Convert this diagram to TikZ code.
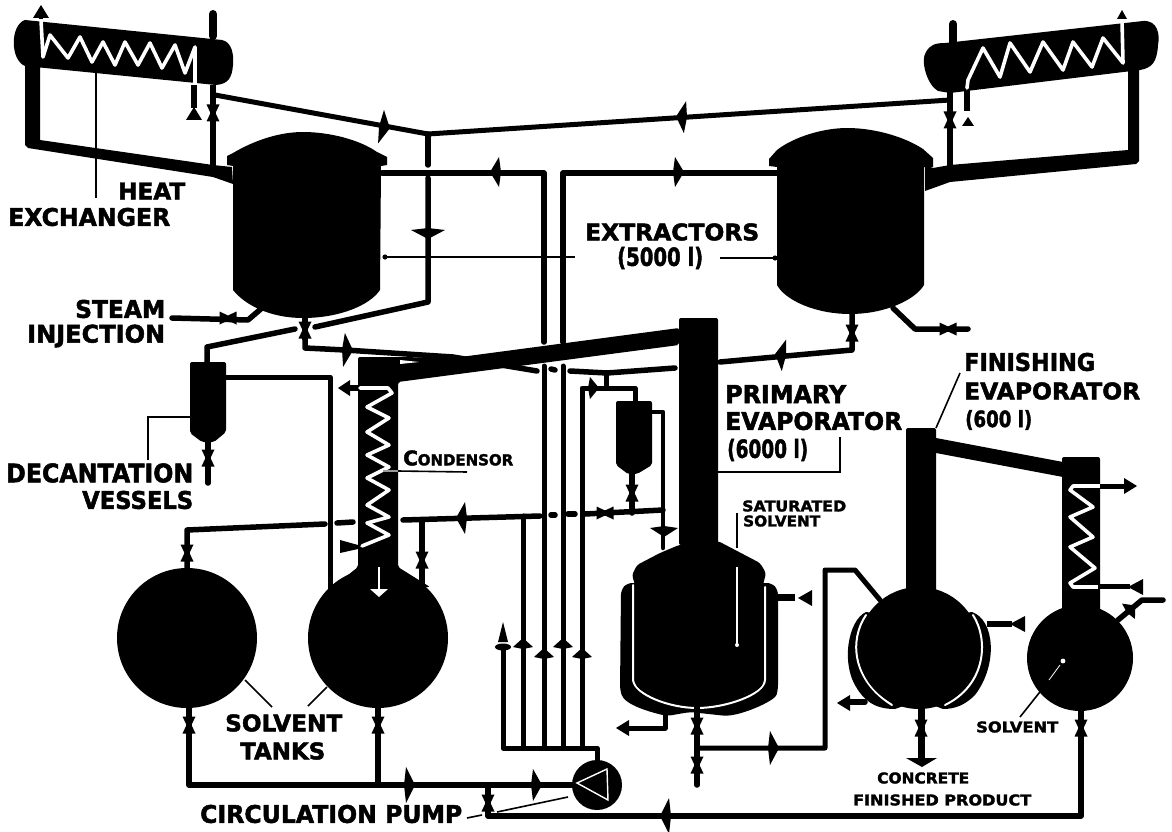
\documentclass[tikz,border=0pt]{standalone}
\usepackage{fontspec}
\usepackage{graphicx}
\setmainfont{DejaVu Sans}[BoldFeatures={FakeBold=2}]
\newcommand\valve[3]{\fill[shift={(#1,#2)},rotate=#3] (-6.5,-8.5)--(6.5,-8.5)--(2.5,0)--(6.5,8.5)--(-6.5,8.5)--(-2.5,0)--cycle;}
\newcommand\flow[4]{\fill[shift={(#1,#2)},rotate=#3] (7,0)--(-2,-#4)--(-4,0)--(-2,#4)--cycle;}
\newcommand\tri[5]{\fill[shift={(#1,#2)},rotate=#3] (0,0)--(#4,-#5)--(#4,#5)--cycle;}
\newcommand\lbl[6]{\node[anchor=west,inner sep=0pt] (#1) at (#2,#3) {\resizebox{#4pt}{#5pt}{\bfseries #6}};}
\tikzset{
  pipe/.style={draw=black,line width=5.5pt,line cap=round,line join=round},
  leader/.style={draw=black,line width=1.6pt},
  coil/.style={draw=white,line width=3.6pt,line join=round,line cap=round},
  jacketline/.style={draw=white,line width=2pt,line cap=round}
}
\begin{document}
\begin{tikzpicture}[x=1pt,y=-1pt]
\useasboundingbox (0,0) rectangle (1172,832);
% ---------- left heat exchanger
\fill (25,20) -- (222,40) .. controls (232,42) and (234,55) .. (233,65) .. controls (232,78) and (228,84) .. (216,85) -- (25,66) .. controls (10,60) and (10,25) .. (25,20) -- cycle;
\fill (25,60) -- (40,66) -- (40,140) -- (213,165) -- (232,167) -- (233,184) -- (213,177) -- (28,148) -- (25,145) -- cycle;
\draw[coil] (41,20) -- (43,57) -- (50,35) -- (68,58) -- (80,37) -- (92,62) -- (103,42) -- (115,65) -- (125,42) -- (138,65) -- (150,43) -- (162,68) -- (175,45) -- (185,73) -- (195,47) -- (195,84);
\draw[pipe,line width=4pt,line cap=butt] (41,15) -- (41,19);
\tri{41}{5}{-90}{13}{8}
\draw[pipe,line width=8pt] (213,14) -- (213,36);
\draw[pipe,line cap=butt] (194,85) -- (194,108);
\tri{194}{107}{-90}{13}{8}
\draw[pipe,line cap=butt] (213,85) -- (213,166);
\valve{213}{113}{0}
\draw[leader] (96,73) -- (96,198);
% ---------- right heat exchanger
\fill (1143,21) .. controls (1158,20) and (1160,35) .. (1158,45) .. controls (1157,62) and (1152,68) .. (1140,70) -- (950,93) -- (938,91) .. controls (927,85) and (920,60) .. (926,52) .. controls (930,45) and (935,43) .. (945,43) -- cycle;
\fill (933,168) -- (950,165) -- (1128,150) -- (1128,70) -- (1139,70) -- (1139,161) -- (1136,164) -- (950,182) -- (925,191) -- (925,165) -- cycle;
\draw[coil] (1122,20) -- (1123,63) -- (1103,38) -- (1092,67) -- (1073,42) -- (1063,70) -- (1043,42) -- (1030,72) -- (1010,43) -- (1000,77) -- (983,48) -- (968,80) -- (967,88);
\tri{1122}{10}{-90}{9}{5}
\draw[pipe,line width=8pt] (953,24) -- (953,43);
\draw[pipe,line cap=butt] (967,90) -- (967,111);
\tri{968}{117}{-90}{9}{6}
\draw[pipe,line cap=butt] (950,92) -- (950,166);
\valve{950}{120}{0}
% ---------- extractors
\fill (233,153) .. controls (255,140) and (280,132) .. (303,132) .. controls (330,132) and (360,140) .. (377,152) -- (387,157) -- (387,165) -- (381,166) -- (380,290) .. controls (370,305) and (340,318) .. (303,318) .. controls (270,318) and (245,305) .. (233,290) -- (233,166) -- (227,165) -- (227,156) -- cycle;
\fill (777,150) .. controls (795,136) and (825,128) .. (847,128) .. controls (875,128) and (905,137) .. (923,149) -- (933,158) -- (933,167) -- (924,167) -- (924,285) .. controls (915,300) and (885,314) .. (850,314) .. controls (815,314) and (785,300) .. (777,285) -- (777,167) -- (769,166) -- (769,159) -- cycle;
% top lines
\draw[pipe,line width=5pt] (215,95) -- (428,134) -- (950,100);
\flow{383}{127}{-10}{17}
\flow{683}{117}{176}{16}
\draw[pipe] (428,134) -- (428,165);
\draw[pipe] (428,178) -- (428,302) -- (315,327);
\flow{428}{232}{-90}{17}
\draw[pipe] (382,173) -- (544,173) -- (544,342);
\flow{497}{172}{180}{15}
\draw[pipe] (777,173) -- (563,173) -- (563,342);
\flow{677}{172}{0}{15}
% steam
\draw[pipe] (172,318) -- (248,320) -- (262,308);
\valve{228}{318}{90}
\draw[pipe,line cap=butt] (305,316) -- (305,340);
\valve{305}{330}{0}
\draw[pipe] (295,329) -- (207,347) -- (207,362);
\draw[pipe] (305,338) -- (305,348) -- (345,350) -- (453,357) -- (537,371);
\flow{346}{350}{-3}{17}
\draw[pipe] (551,369) -- (555,370);
\draw[pipe] (570,371) -- (607,373) -- (675,368);
\draw[pipe] (852,312) -- (852,350) -- (720,362);
\valve{852}{333}{0}
\flow{782}{355}{172}{16}
\draw[pipe] (893,308) -- (915,329) -- (968,329);
\valve{948}{329}{90}
% leader extractors
\draw[leader] (385,257) -- (575,257);
\draw[leader] (720,258) -- (775,258);
\fill (385,257) circle (2.6);
\fill (775,258) circle (2.6);
% ---------- decanter 1
\fill[rounded corners=2pt] (190,362) -- (226,362) -- (226,432) -- (214,442) -- (202,442) -- (190,433) -- cycle;
\draw[pipe] (208,442) -- (208,483);
\valve{208}{458}{0}
\draw[pipe,line width=5pt] (226,377) -- (330,377) -- (330,590);
\draw[leader] (148,460) -- (148,417) -- (190,417);
% ---------- condenser and solvent tanks
\fill[rounded corners=2pt] (358,357) -- (400,357) -- (453,358) -- (679,328) -- (679,345) -- (398,382) -- (398,567) -- (430,587) -- (333,587) -- (358,567) -- cycle;
\fill[white] (400,360) -- (419,362) -- (400,364) -- cycle;
\fill (187,638) circle (70);
\fill (378,638) circle (70);
\draw[coil] (360,388) -- (388,388) -- (392,393) -- (367,407) -- (389,418) -- (367,432) -- (389,445) -- (367,455) -- (389,467) -- (367,478) -- (389,490) -- (367,505) -- (389,517) -- (367,523) -- (389,535) -- (362,546);
\draw[draw=white,line width=2.5pt] (379,567) -- (379,590);
\fill[white] (370,589) -- (388,589) -- (379,597) -- cycle;
\draw[pipe,line cap=butt] (358,388) -- (348,388);
\tri{338}{388}{0}{12}{8}
\fill (340,540) -- (358,545) -- (358,549) -- (340,553) -- cycle;
\draw[draw=white!60!black,line width=1.2pt] (383,471) -- (398,471);
\draw[leader] (398,471) -- (467,472);
% horizontal header
\draw[pipe] (187,570) -- (187,530) -- (325,524);
\draw[pipe] (337,523) -- (353,522);
\draw[pipe] (403,520) -- (540,516);
\draw[pipe] (551,515) -- (555,515);
\draw[pipe] (568,514) -- (575,514);
\draw[pipe] (585,514) -- (663,510);
\flow{463}{518}{180}{16}
\valve{605}{513}{90}
\valve{187}{553}{0}
\draw[pipe] (422,520) -- (422,585);
\valve{422}{560}{0}
% ---------- pump lines
\draw[pipe,line width=5pt] (503,647) -- (503,748) -- (597,748) -- (597,762);
\draw[pipe,line width=5pt] (523,748) -- (523,516);
\draw[pipe,line width=5pt] (544,748) -- (544,366);
\draw[pipe,line width=5pt] (563,748) -- (563,366);
\draw[pipe,line width=5pt] (582,748) -- (582,388) -- (635,388) -- (635,402);
\draw[pipe,line width=5pt] (606,373) -- (606,388);
\flow{592}{388}{0}{11}
\fill (503,647) ellipse (8 and 3.5);
\tri{503}{622}{-90}{20}{5}
\flow{523}{645}{90}{10}
\flow{544}{655}{90}{10}
\flow{563}{645}{90}{10}
\flow{582}{655}{90}{10}
% ---------- decanter 2
\fill[rounded corners=2pt] (616,401) -- (652,401) -- (652,465) -- (637,474) -- (628,474) -- (616,465) -- cycle;
\draw[pipe] (632,473) -- (632,513);
\valve{632}{493}{0}
\draw[pipe,line width=4.5pt] (652,412) -- (663,412) -- (663,548);
\flow{664}{530}{-90}{14}
% ---------- primary evaporator
\fill[rounded corners=2pt] (679,318) -- (718,318) -- (718,545) -- (679,545) -- cycle;
\fill[rounded corners=5pt] (627,583) -- (621,590) -- (620,690) .. controls (625,705) and (650,712) .. (667,716) -- (690,712) -- (727,716) .. controls (750,712) and (775,700) .. (778,690) -- (778,590) -- (772,583) -- cycle;
\draw[jacketline] (633,585) -- (633,680) .. controls (635,695) and (670,708) .. (697,708) .. controls (725,708) and (764,695) .. (765,680) -- (765,587);
\fill[rounded corners=3pt] (679,545) -- (660,553) -- (637,565) -- (632,575) -- (635,585) -- (635,680) .. controls (637,693) and (670,705) .. (697,705) .. controls (725,705) and (762,693) .. (763,680) -- (763,585) -- (766,573) -- (760,563) -- (718,541) -- cycle;
\draw[leader] (737,513) -- (737,548);
\draw[draw=white,line width=1.2pt] (737,567) -- (737,645);
\fill[white] (737,645) circle (2);
\draw[pipe,line width=7pt,line cap=butt] (778,597) -- (795,597);
\tri{798}{598}{0}{14}{8}
\draw[pipe,line width=5pt,line cap=butt] (665,714) -- (665,728) -- (628,728);
\tri{616}{728}{0}{13}{8}
\draw[pipe] (697,705) -- (697,785);
\valve{697}{726}{0}
\valve{697}{765}{0}
\draw[pipe,line width=5pt] (697,748) -- (825,748) -- (825,570) -- (855,570) -- (880,600);
\flow{772}{748}{0}{17}
\draw[leader] (718,472) -- (840,472) -- (840,437);
% ---------- finishing evaporator
\fill[rounded corners=2pt] (906,428) -- (936,428) -- (936,600) -- (906,600) -- cycle;
\fill (936,438) -- (1063,462) -- (1063,477) -- (936,453) -- cycle;
\fill (866,612) .. controls (848,620) and (840,665) .. (858,690) .. controls (868,705) and (880,709) .. (895,709) -- (920,700) -- (920,620) -- cycle;
\fill (972,612) .. controls (995,620) and (998,665) .. (975,695) .. controls (965,705) and (955,709) .. (943,709) -- (920,700) -- (920,620) -- cycle;
\draw[jacketline] (866,615) .. controls (849,640) and (852,680) .. (892,705);
\draw[jacketline] (973,615) .. controls (989,640) and (986,685) .. (945,705);
\fill (919,648) circle (61);
\draw[pipe] (865,702) -- (848,702);
\tri{837}{703}{0}{13}{8}
\draw[pipe,line cap=butt] (987,624) -- (1012,624);
\tri{1010}{624}{0}{15}{8}
\draw[pipe,line width=7pt,line cap=butt] (921,705) -- (921,759);
\valve{921}{728}{0}
\fill (906,758) -- (937,758) -- (922,767) -- cycle;
\draw[leader] (960,373) -- (936,428);
% column 2
\fill[rounded corners=2pt] (1062,457) -- (1100,457) -- (1100,620) -- (1062,620) -- cycle;
\fill (1080,658) circle (53);
\draw[coil] (1100,486) -- (1073,486) -- (1070,490) -- (1093,507) -- (1070,517) -- (1093,537) -- (1070,547) -- (1095,568) -- (1070,583) -- (1073,587) -- (1098,587);
\draw[pipe,line width=5pt,line cap=butt] (1100,486) -- (1126,486);
\tri{1137}{486}{180}{13}{8}
\draw[pipe,line width=5pt,line cap=butt] (1098,586) -- (1130,586);
\tri{1128}{587}{0}{15}{8}
\draw[pipe] (1118,620) -- (1142,600) -- (1163,600);
\flow{1130}{610}{40}{10}
\fill[white] (1063,661) circle (2.4);
\draw[draw=white,line width=.8pt] (1049,680) -- (1060,665);
\draw[leader] (1020,717) -- (1047,683);
\draw[pipe] (1081,705) -- (1081,816) -- (488,816) -- (488,785);
\valve{1081}{728}{0}
\valve{488}{803}{0}
\flow{667}{816}{180}{18}
% ---------- main suction line and pump
\draw[pipe] (189,705) -- (189,785) -- (575,785);
\draw[pipe] (378,705) -- (378,785);
\valve{189}{725}{0}
\valve{378}{725}{0}
\flow{408}{785}{0}{18}
\flow{535}{785}{0}{16}
\fill (597,785) circle (25);
\draw[draw=white,line width=1.4pt,line join=miter] (577,783) -- (607,769) -- (608,800) -- cycle;
\draw[leader] (467,818) -- (482,815);
\draw[leader] (497,812) -- (568,797);
% tank leaders
\draw[leader] (245,680) -- (272,707);
\draw[leader] (327,687) -- (308,706);
% ---------- labels
\lbl{heat}{118}{191}{67}{17}{HEAT}
\lbl{exch}{8}{217}{162}{18}{EXCHANGER}
\lbl{extr}{585}{232}{174}{17}{EXTRACTORS}
\lbl{fivek}{617}{258}{86}{19}{(5000 l)}
\lbl{steam}{75}{309}{90}{18}{STEAM}
\lbl{inj}{27}{336}{138}{18}{INJECTION}
\lbl{dec}{6}{473}{187}{19}{DECANTATION}
\lbl{ves}{82}{500}{111}{18}{VESSELS}
\node[anchor=west,inner sep=0pt] (cond) at (403,458) {\resizebox{110pt}{15pt}{\bfseries\fontsize{14}{14}\selectfont C\fontsize{10.5}{10.5}\selectfont ONDENSOR}};
\lbl{prim}{725}{394}{121}{18}{PRIMARY}
\lbl{evap}{725}{421}{177}{18}{EVAPORATOR}
\lbl{sixk}{727}{450}{81}{19}{(6000 l)}
\lbl{fin}{964}{362}{131}{18}{FINISHING}
\lbl{evapb}{964}{391}{176}{17}{EVAPORATOR}
\lbl{sixh}{965}{420}{67}{17}{(600 l)}
\lbl{sat}{742}{506}{104}{11}{SATURATED}
\lbl{satb}{743}{521}{77}{11}{SOLVENT}
\lbl{tanka}{225}{723}{117}{17}{SOLVENT}
\lbl{tankb}{240}{751}{85}{17}{TANKS}
\lbl{solv}{976}{727}{82}{11}{SOLVENT}
\lbl{conc}{877}{778}{92}{11}{CONCRETE}
\lbl{prod}{853}{800}{178}{11}{FINISHED PRODUCT}
\lbl{circ}{200}{814}{262}{18}{CIRCULATION PUMP}
\end{tikzpicture}
\end{document}
